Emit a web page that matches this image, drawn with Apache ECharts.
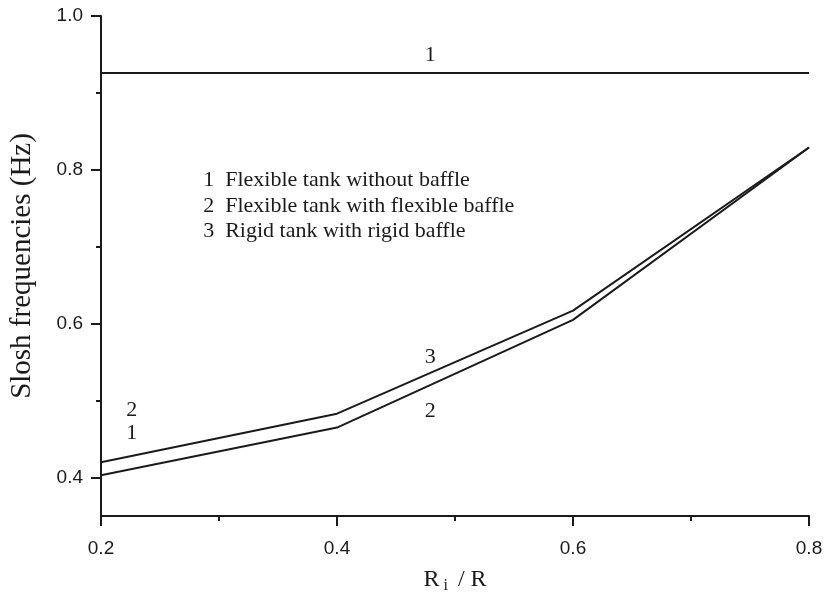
<!DOCTYPE html>
<html>
<head>
<meta charset="utf-8">
<script src="https://cdn.jsdelivr.net/npm/echarts@6/dist/echarts.min.js"></script>
<style>html,body{margin:0;padding:0;background:#fff;}#c{width:826px;height:593px;}</style>
</head>
<body>
<div id="c"></div>
<script>
var xValues = [0.2, 0.4, 0.6, 0.8];
var flexNoBaffle = [0.926, 0.926, 0.926, 0.926];
var rigidRigid = [0.420, 0.483, 0.617, 0.829];
var flexFlex = [0.403, 0.465, 0.605, 0.829];
var yMajorTicks = [0.4, 0.6, 0.8, 1.0];
var yMinorTicks = [0.5, 0.7, 0.9];
var curveLabels = [
  [0.479, 0.949, '1'],
  [0.479, 0.557, '3'],
  [0.479, 0.486, '2'],
  [0.226, 0.488, '2'],
  [0.226, 0.458, '1']
];
var legendLines = [
  [0.2866, 0.786, '1  Flexible tank without baffle'],
  [0.2866, 0.753, '2  Flexible tank with flexible baffle'],
  [0.2866, 0.720, '3  Rigid tank with rigid baffle']
];

var ink = '#1a1a1a';
function pairs(ys) { return xValues.map(function (x, i) { return [x, ys[i]]; }); }
function lineSeries(name, ys) {
  return {
    name: name, type: 'line', data: pairs(ys), showSymbol: false, symbol: 'none',
    lineStyle: { color: ink, width: 2 }, silent: true, z: 3
  };
}
var chart = echarts.init(document.getElementById('c'), null, { renderer: 'canvas' });
chart.setOption({
  backgroundColor: '#fff',
  animation: false,
  grid: { left: 101, right: 17, top: 16, bottom: 77, containLabel: false, outerBoundsMode: 'none' },
  xAxis: {
    type: 'value', min: 0.2, max: 0.8, interval: 0.2,
    name: '{a|R}{b|i}{a| / R}', nameLocation: 'middle', nameGap: 50,
    nameTextStyle: {
      rich: {
        a: { fontFamily: 'Liberation Serif', fontSize: 24, color: ink },
        b: { fontFamily: 'Liberation Serif', fontSize: 16, color: ink, padding: [12, 4, 0, 4] }
      }
    },
    axisLine: { show: true, onZero: false, lineStyle: { color: ink, width: 2 } },
    axisTick: { show: true, inside: false, length: 10, lineStyle: { color: ink, width: 2 } },
    minorTick: { show: true, splitNumber: 2, length: 5, lineStyle: { color: ink, width: 2 } },
    splitLine: { show: false },
    axisLabel: { fontFamily: 'Liberation Sans', fontSize: 19, color: ink, margin: 23,
      formatter: function (v) { return v.toFixed(1); } }
  },
  yAxis: [{
    type: 'value', min: 0.35, max: 1.0,
    name: 'Slosh frequencies (Hz)', nameLocation: 'middle', nameGap: 64,
    nameTextStyle: { fontFamily: 'Liberation Serif', fontSize: 29, color: ink },
    axisLine: { show: true, onZero: false, lineStyle: { color: ink, width: 2 } },
    axisTick: { show: true, inside: false, length: 10, customValues: yMajorTicks, lineStyle: { color: ink, width: 2 } },
    splitLine: { show: false },
    axisLabel: { fontFamily: 'Liberation Sans', fontSize: 19, color: ink, margin: 18, customValues: yMajorTicks,
      formatter: function (v) { return v.toFixed(1); } }
  }, {
    type: 'value', min: 0.35, max: 1.0, position: 'left',
    axisLine: { show: false },
    axisTick: { show: true, inside: false, length: 5, customValues: yMinorTicks, lineStyle: { color: ink, width: 2 } },
    axisLabel: { show: false, customValues: yMinorTicks },
    splitLine: { show: false }
  }],
  series: [
    lineSeries('Flexible tank without baffle', flexNoBaffle),
    lineSeries('Flexible tank with flexible baffle', flexFlex),
    lineSeries('Rigid tank with rigid baffle', rigidRigid),
    {
      type: 'scatter', symbolSize: 0, silent: true, z: 4, itemStyle: { opacity: 1 },
      data: curveLabels.map(function (d) { return { value: [d[0], d[1]], label: { formatter: d[2] } }; }),
      label: { show: true, position: 'inside', fontFamily: 'Liberation Serif', fontSize: 22, color: ink, opacity: 1, textBorderWidth: 0 }
    },
    {
      type: 'scatter', symbolSize: 0, silent: true, z: 4, itemStyle: { opacity: 1 },
      data: legendLines.map(function (d) { return { value: [d[0], d[1]], label: { formatter: d[2] } }; }),
      label: { show: true, position: 'right', distance: 0, align: 'left', fontFamily: 'Liberation Serif', fontSize: 22, color: ink, opacity: 1, textBorderWidth: 0 }
    }
  ]
});
</script>
</body>
</html>
